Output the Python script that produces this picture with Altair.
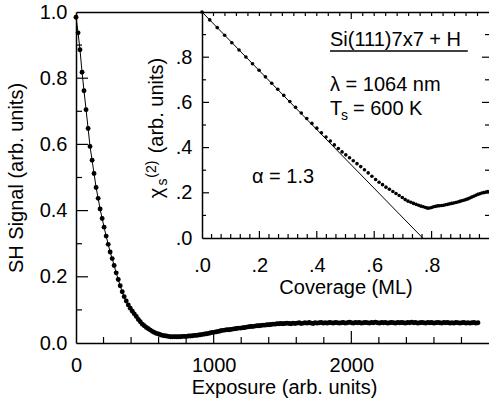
import altair as alt
import pandas as pd

# ---------------- data ----------------
EXPOSURE = [
    0, 15, 29, 44, 58, 73, 88, 102, 117, 131, 146, 161, 175, 190, 204, 219, 234, 248, 263, 277,
    292, 307, 321, 336, 350, 365, 380, 394, 409, 423, 438, 453, 467, 482, 496, 511, 526, 540, 555, 569,
    584, 599, 613, 628, 643, 657, 672, 686, 701, 716, 730, 745, 759, 774, 789, 803, 818, 832, 847, 862,
    876, 891, 905, 920, 935, 949, 964, 978, 993, 1008, 1022, 1037, 1051, 1066, 1081, 1095, 1110, 1124, 1139, 1154,
    1168, 1183, 1197, 1212, 1227, 1241, 1256, 1270, 1285, 1300, 1314, 1329, 1343, 1358, 1373, 1387, 1402, 1416, 1431, 1446,
    1460,
    1475, 1489, 1504, 1518, 1533, 1548, 1562, 1577, 1591, 1606,
    1621, 1635, 1650, 1664, 1679, 1694, 1708, 1723, 1737, 1752,
    1767, 1781, 1796, 1810, 1825, 1840, 1854, 1869, 1883, 1898,
    1913, 1927, 1942, 1956, 1971, 1986, 2000, 2015, 2029, 2044,
    2059, 2073, 2088, 2102, 2117, 2132, 2146, 2161, 2175, 2190,
    2205, 2219, 2234, 2248, 2263, 2278, 2292, 2307, 2321, 2336,
    2351, 2365, 2380, 2394, 2409, 2424, 2438, 2453, 2467, 2482,
    2497, 2511, 2526, 2540, 2555, 2570, 2584, 2599, 2613, 2628,
    2643, 2657, 2672, 2686, 2701, 2716, 2730, 2745, 2759, 2774,
    2789, 2803, 2818, 2832, 2847, 2862, 2876, 2891, 2905, 2920,
]
SH_SIGNAL = [
    0.984, 0.937, 0.886, 0.818, 0.762, 0.705, 0.648, 0.594, 0.552, 0.512,
    0.470, 0.437, 0.405, 0.376, 0.350, 0.323, 0.298, 0.275, 0.255, 0.234,
    0.212, 0.192, 0.173, 0.155, 0.140, 0.127, 0.115, 0.105, 0.096, 0.088,
    0.080, 0.071, 0.064, 0.057, 0.052, 0.047, 0.043, 0.039, 0.035, 0.032,
    0.029, 0.027, 0.025, 0.023, 0.022, 0.021, 0.020, 0.019, 0.019, 0.019,
    0.019, 0.019, 0.019, 0.020, 0.020, 0.020, 0.021, 0.021, 0.022, 0.023,
    0.023, 0.024, 0.025, 0.026, 0.027, 0.028, 0.029, 0.031, 0.032, 0.033,
    0.034, 0.035, 0.037, 0.038, 0.039, 0.040, 0.040, 0.041, 0.042, 0.043,
    0.044, 0.045, 0.045, 0.046, 0.047, 0.048, 0.049, 0.050, 0.050, 0.051,
    0.052, 0.052, 0.053, 0.054, 0.054, 0.055, 0.055, 0.056, 0.057, 0.057,
    0.058,
    0.058, 0.059, 0.058, 0.059, 0.060, 0.059, 0.058, 0.060, 0.059, 0.060,
    0.061, 0.059, 0.060, 0.061, 0.060, 0.062, 0.060, 0.059, 0.061, 0.060,
    0.061, 0.062, 0.060, 0.061, 0.060, 0.062, 0.061, 0.060, 0.062, 0.061,
    0.060, 0.061, 0.062, 0.060, 0.061, 0.063, 0.061, 0.060, 0.062, 0.061,
    0.062, 0.060, 0.061, 0.062, 0.061, 0.060, 0.062, 0.061, 0.063, 0.061,
    0.060, 0.062, 0.061, 0.062, 0.060, 0.061, 0.062, 0.061, 0.060, 0.062,
    0.061, 0.062, 0.061, 0.060, 0.062, 0.061, 0.063, 0.061, 0.062, 0.060,
    0.061, 0.062, 0.061, 0.060, 0.062, 0.061, 0.062, 0.060, 0.061, 0.062,
    0.061, 0.060, 0.062, 0.061, 0.062, 0.060, 0.061, 0.060, 0.062, 0.061,
    0.060, 0.061, 0.062, 0.060, 0.061, 0.060, 0.061, 0.062, 0.060, 0.061,
]

COVERAGE = [
    0.000, 0.027, 0.053, 0.079, 0.104, 0.129, 0.153, 0.176, 0.199, 0.221, 0.243, 0.264, 0.285,
    0.306, 0.326, 0.346, 0.365, 0.383, 0.400, 0.416, 0.432, 0.447, 0.461, 0.475, 0.488,
    0.501, 0.514, 0.527, 0.540, 0.553, 0.566, 0.579, 0.592, 0.605, 0.617,
    0.629, 0.641, 0.653, 0.665, 0.676, 0.687, 0.698, 0.708, 0.718, 0.728,
    0.737, 0.746, 0.755, 0.763, 0.771, 0.779, 0.786,
    0.793, 0.800, 0.807, 0.814, 0.821, 0.828, 0.835, 0.842, 0.849, 0.856,
    0.863, 0.870, 0.877, 0.884, 0.891, 0.898, 0.905, 0.912, 0.919, 0.926,
    0.933, 0.940, 0.947, 0.954, 0.961, 0.968, 0.975, 0.982, 0.989, 0.996,
]
CHI = [
    1.000, 0.965, 0.931, 0.897, 0.864, 0.832, 0.801, 0.771, 0.742, 0.713, 0.685, 0.658, 0.631,
    0.604, 0.578, 0.553, 0.529, 0.507, 0.486, 0.466, 0.447, 0.429, 0.412, 0.396, 0.381,
    0.368, 0.355, 0.342, 0.329, 0.316, 0.302, 0.288, 0.273, 0.259, 0.247,
    0.236, 0.225, 0.216, 0.206, 0.197, 0.188, 0.179, 0.170, 0.163, 0.158,
    0.153, 0.149, 0.145, 0.141, 0.138, 0.135, 0.132,
    0.133, 0.135, 0.138, 0.140, 0.142, 0.143, 0.144, 0.145, 0.147, 0.149,
    0.151, 0.153, 0.155, 0.157, 0.159, 0.162, 0.165, 0.167, 0.170, 0.173,
    0.177, 0.181, 0.185, 0.189, 0.193, 0.196, 0.199, 0.201, 0.203, 0.205,
]

FIT_COVERAGE = [0.0, 0.769]
FIT_CHI = [1.0, 0.0]

# tick values
MAIN_X_LABELS = [0, 1000, 2000]
MAIN_X_MAJOR = [1000, 2000]
MAIN_X_MINOR = [200, 400, 600, 800, 1200, 1400, 1600, 1800, 2200, 2400, 2600, 2800]
MAIN_Y_LABELS = [0.0, 0.2, 0.4, 0.6, 0.8, 1.0]
MAIN_Y_MAJOR = [0.2, 0.4, 0.6, 0.8]
MAIN_Y_MINOR = [0.1, 0.3, 0.5, 0.7, 0.9]
INSET_LABELS = [0.0, 0.2, 0.4, 0.6, 0.8]
INSET_MAJOR = [0.2, 0.4, 0.6, 0.8]
INSET_X_MINOR = [k / 30 for k in range(1, 30) if k % 6 != 0]
INSET_Y_MINOR = [0.1, 0.3, 0.5, 0.7, 0.9]
INSET_TOP_MAJOR = [0.52]
INSET_TOP_MINOR = [k * 0.04 for k in range(1, 25) if k != 13]

FONT = "Liberation Sans"

main_df = pd.DataFrame({"exposure": EXPOSURE, "signal": SH_SIGNAL})
inset_df = pd.DataFrame({"coverage": COVERAGE, "chi": CHI})
fit_df = pd.DataFrame({"coverage": FIT_COVERAGE, "chi": FIT_CHI})

W, H = 413, 331
INSET_LEFT = 126      # px from plot left
INSET_BOTTOM = 226    # px from plot top
MAJOR, MINOR = 12, 6
IMAJOR, IMINOR = 7, 4
TICK_W = 1.2
TICK_COLOR = "black"


def mscale_x():
    return alt.Scale(domain=[0, 3000], nice=False, zero=False)


def mscale_y():
    return alt.Scale(domain=[0, 1], nice=False, zero=False)


def iscale_x():
    return alt.Scale(domain=[0, 1], range=[INSET_LEFT, W], nice=False, zero=False)


def iscale_y():
    return alt.Scale(domain=[0, 1], range=[INSET_BOTTOM, 0], nice=False, zero=False)


# inward tick marks, positioned through the chart's own scales
def vticks(values, xscale, y0, y1, name):
    return alt.Chart(pd.DataFrame({name: values})).mark_rule(
        color=TICK_COLOR, strokeWidth=TICK_W).encode(
        x=alt.X(f"{name}:Q", scale=xscale, axis=None),
        y=alt.value(y0), y2=alt.value(y1),
    )


def hticks(values, yscale, x0, x1, name):
    return alt.Chart(pd.DataFrame({name: values})).mark_rule(
        color=TICK_COLOR, strokeWidth=TICK_W).encode(
        y=alt.Y(f"{name}:Q", scale=yscale, axis=None),
        x=alt.value(x0), x2=alt.value(x1),
    )


# ---------------- main plot ----------------
main_line = alt.Chart(main_df).mark_line(color="black", strokeWidth=1).encode(
    x=alt.X("exposure:Q", scale=mscale_x(),
            axis=alt.Axis(orient="bottom", values=MAIN_X_LABELS, format="d",
                          ticks=False, tickSize=0, labelPadding=12,
                          labelFlush=False, labelOverlap=False, domain=True,
                          title="Exposure (arb. units)", titleX=208, titleY=50,
                          titleBaseline="alphabetic", titleAlign="center", zindex=2)),
    y=alt.Y("signal:Q", scale=mscale_y(),
            axis=alt.Axis(orient="left", values=MAIN_Y_LABELS, format=".1f",
                          ticks=False, tickSize=0, labelPadding=9,
                          labelFlush=False, labelOverlap=False, domain=True,
                          title="SH Signal (arb. units)", titleAngle=270,
                          titleX=-53.5, titleY=165.5,
                          titleBaseline="alphabetic", titleAlign="center", zindex=2)),
)

main_points = alt.Chart(main_df).mark_circle(color="black", size=24, opacity=1).encode(
    x=alt.X("exposure:Q", scale=mscale_x(), axis=None),
    y=alt.Y("signal:Q", scale=mscale_y(), axis=None),
)

main_border = alt.Chart(main_df).mark_point(opacity=0).encode(
    x=alt.X("exposure:Q", scale=mscale_x(),
            axis=alt.Axis(orient="top", labels=False, ticks=False, domain=True,
                          title=None, grid=False, zindex=2)),
    y=alt.Y("signal:Q", scale=mscale_y(), axis=None),
)

main_ticks = [
    vticks(MAIN_X_MAJOR, mscale_x(), H, H - MAJOR, "mxa"),
    vticks(MAIN_X_MINOR, mscale_x(), H, H - MINOR, "mxi"),
    hticks(MAIN_Y_MAJOR, mscale_y(), 0, MAJOR, "mya"),
    hticks(MAIN_Y_MINOR, mscale_y(), 0, MINOR, "myi"),
]

# ---------------- inset ----------------
inset_points = alt.Chart(inset_df).mark_circle(color="black", size=13, opacity=1).encode(
    x=alt.X("coverage:Q", scale=iscale_x(),
            axis=alt.Axis(orient="bottom", offset=INSET_BOTTOM - H, values=INSET_LABELS,
                          labelExpr="replace(format(datum.value, '.1f'), '0.', '.')",
                          ticks=False, tickSize=0, labelPadding=17,
                          labelFlush=False, labelOverlap=False, domain=True,
                          title="Coverage (ML)", titleX=269.5, titleY=55,
                          titleBaseline="alphabetic", titleAlign="center", zindex=2)),
    y=alt.Y("chi:Q", scale=iscale_y(),
            axis=alt.Axis(orient="left", offset=-INSET_LEFT, values=INSET_LABELS,
                          labelExpr="replace(format(datum.value, '.1f'), '0.', '.')",
                          ticks=False, tickSize=0, labelPadding=10,
                          labelFlush=False, labelOverlap=False, domain=True,
                          title=None, zindex=2)),
)

inset_fit = alt.Chart(fit_df).mark_line(color="black", strokeWidth=1).encode(
    x=alt.X("coverage:Q", scale=iscale_x(), axis=None),
    y=alt.Y("chi:Q", scale=iscale_y(), axis=None),
)

inset_ticks = [
    vticks(INSET_MAJOR, iscale_x(), INSET_BOTTOM, INSET_BOTTOM - IMAJOR, "ixa"),
    vticks(INSET_X_MINOR, iscale_x(), INSET_BOTTOM, INSET_BOTTOM - IMINOR, "ixi"),
    vticks(INSET_TOP_MAJOR, iscale_x(), 0, IMAJOR, "ita"),
    vticks(INSET_TOP_MINOR, iscale_x(), 0, IMINOR, "iti"),
    hticks(INSET_MAJOR, iscale_y(), INSET_LEFT, INSET_LEFT + IMAJOR, "iya"),
    hticks(INSET_Y_MINOR, iscale_y(), INSET_LEFT, INSET_LEFT + IMINOR, "iyi"),
    hticks(INSET_MAJOR, iscale_y(), W, W - IMAJOR, "ira"),
    hticks(INSET_Y_MINOR, iscale_y(), W, W - IMINOR, "iri"),
]

# ---------------- annotations (inset coordinates) ----------------
def text_layer(df, size, align="left", angle=0):
    kw = dict(font=FONT, fontSize=size, color="black", align=align,
              baseline="alphabetic")
    if angle:
        kw["angle"] = angle
    return alt.Chart(df).mark_text(**kw).encode(
        x=alt.X("x:Q", scale=iscale_x(), axis=None),
        y=alt.Y("y:Q", scale=iscale_y(), axis=None),
        text="t:N",
    )


big_text = text_layer(pd.DataFrame({
    "t": ["Si(111)7x7 + H", "λ = 1064 nm", "T", "= 600 K", "α = 1.3"],
    "x": [0.446, 0.446, 0.446, 0.526, 0.174],
    "y": [0.850, 0.650, 0.544, 0.544, 0.243],
}), 20)

small_text = text_layer(pd.DataFrame({
    "t": ["s"], "x": [0.484], "y": [0.522],
}), 14)

underline = alt.Chart(pd.DataFrame({"x": [0.446], "x2": [0.926], "y": [0.827]})).mark_rule(
    color="black", strokeWidth=1.5).encode(
    x=alt.X("x:Q", scale=iscale_x(), axis=None),
    x2="x2:Q",
    y=alt.Y("y:Q", scale=iscale_y(), axis=None),
)

ytitle_big = text_layer(pd.DataFrame({
    "t": ["χ", "(arb. units)"],
    "x": [-0.136, -0.137],
    "y": [0.199, 0.586],
}), 20, align="center", angle=270)

ytitle_small = text_layer(pd.DataFrame({
    "t": ["s", "(2)"],
    "x": [-0.122, -0.160],
    "y": [0.248, 0.305],
}), 14, align="center", angle=270)

chart = alt.layer(
    main_line, main_points, main_border, *main_ticks,
    inset_points, inset_fit, *inset_ticks,
    big_text, small_text, underline, ytitle_big, ytitle_small,
).resolve_scale(
    x="independent", y="independent"
).properties(
    width=W, height=H,
    padding={"left": 76, "top": 12, "right": 0, "bottom": 62},
    autosize=alt.AutoSizeParams(type="none"),
    background="white",
).configure_axis(
    labelFont=FONT, titleFont=FONT, labelFontSize=20, titleFontSize=20,
    titleFontWeight="normal", labelColor="black", titleColor="black",
    domainColor="black", domainWidth=1.5, tickColor="black", tickWidth=1,
    grid=False,
).configure_view(
    strokeWidth=0,
)

chart.save("out.html", embed_options={"renderer": "svg", "actions": False})
